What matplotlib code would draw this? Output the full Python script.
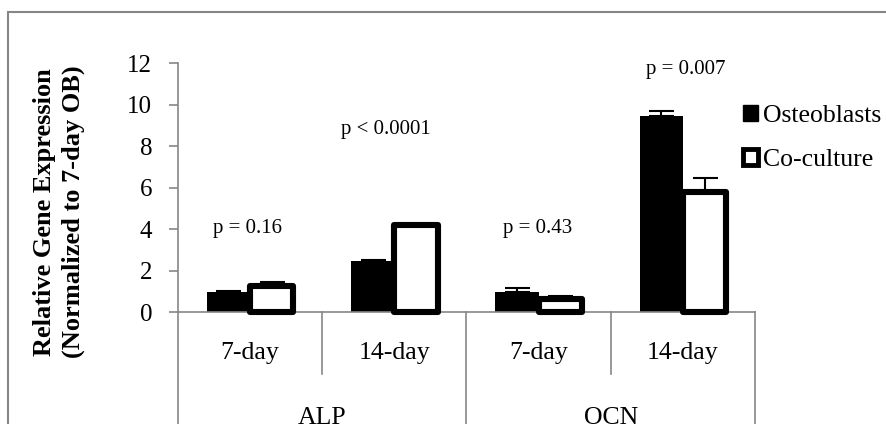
import matplotlib.pyplot as plt
from matplotlib.patches import Patch, Rectangle

plt.rcParams['font.family'] = ['Liberation Serif', 'DejaVu Serif']

days = ['7-day', '14-day', '7-day', '14-day']
genes = ['ALP', 'OCN']
ob = [1.0, 2.47, 1.0, 9.45]
ob_err = [0.05, 0.06, 0.15, 0.25]
cc = [1.28, 4.2, 0.65, 5.8]
cc_err = [0.2, 0.05, 0.15, 0.67]
pvals = ['p = 0.16', 'p < 0.0001', 'p = 0.43', 'p = 0.007']
p_x = [-0.02, 0.94, 1.99, 3.02]
p_y = [4.05, 8.8, 4.05, 11.7]

grey = '#868686'
w = 0.3

fig = plt.figure(figsize=(8.87, 4.24), dpi=100)
ax = fig.add_axes([178/887, 1-312.3/424, 577/887, 249/424])

x = range(len(days))
xo = [i - w/2 for i in x]
xc = [i + w/2 for i in x]
ax.bar(xo, ob, w, color='black', zorder=2)
ax.errorbar(xo, ob, yerr=[[0]*4, ob_err], fmt='none', ecolor='black',
            elinewidth=1.5, capsize=9, capthick=1.5, zorder=3)
ax.bar(xc, cc, w, facecolor='white', edgecolor='black', linewidth=4.4,
       joinstyle='round', clip_on=False, zorder=4)
ax.errorbar(xc, cc, yerr=[[0]*4, cc_err], fmt='none', ecolor='black',
            elinewidth=1.5, capsize=9, capthick=1.5, zorder=3)

for px, py, t in zip(p_x, p_y, pvals):
    ax.text(px, py, t, ha='center', va='center', fontsize=15)

ax.set_xlim(-0.5, 3.5)
ax.set_ylim(0, 12)
ax.set_yticks(range(0, 13, 2))
ax.tick_params(axis='y', colors=grey, length=6.5, width=1.2, pad=12, labelsize=18, labelcolor='black')
ax.set_xticks([])
for s in ['top', 'right']:
    ax.spines[s].set_visible(False)
for s in ['left', 'bottom']:
    ax.spines[s].set_color(grey)
    ax.spines[s].set_linewidth(1.2)

# category separators under the axis
for b in [-0.5, 0.5, 1.5, 2.5, 3.5]:
    low = -0.7 if b in (-0.5, 1.5, 3.5) else -0.248
    ax.plot([b, b], [0, low], transform=ax.get_xaxis_transform(), color=grey,
            lw=1.2, clip_on=False)
for i, d in enumerate(days):
    ax.text(i, -0.163, d, transform=ax.get_xaxis_transform(), ha='center', va='center', fontsize=18.5)
for j, g in enumerate(genes):
    ax.text(2*j + 0.5, -0.447, g, transform=ax.get_xaxis_transform(), ha='center', va='baseline', fontsize=18.5)

fig.text(59/887, 1-212/424, 'Relative Gene Expression\n(Normalized to 7-day OB)',
         rotation=90, ha='center', va='center', fontsize=19, fontweight='bold',
         multialignment='center', linespacing=1.35)

handles = [Patch(facecolor='black', edgecolor='black', label='Osteoblasts'),
           Patch(facecolor='white', edgecolor='black', linewidth=3.5, label='Co-culture')]
ax.legend(handles=handles, loc='center left', bbox_to_anchor=(0.979, 0.70), frameon=False,
          fontsize=18.5, handlelength=0.58, handleheight=0.58, handletextpad=0.2,
          labelspacing=0.88, borderpad=0, borderaxespad=0)

fig.add_artist(Rectangle((8.5/887, -0.1), 2, (424-12)/424 + 0.1, transform=fig.transFigure,
                         fill=False, edgecolor=grey, lw=1.5))

fig.savefig('out.png', dpi=100)
